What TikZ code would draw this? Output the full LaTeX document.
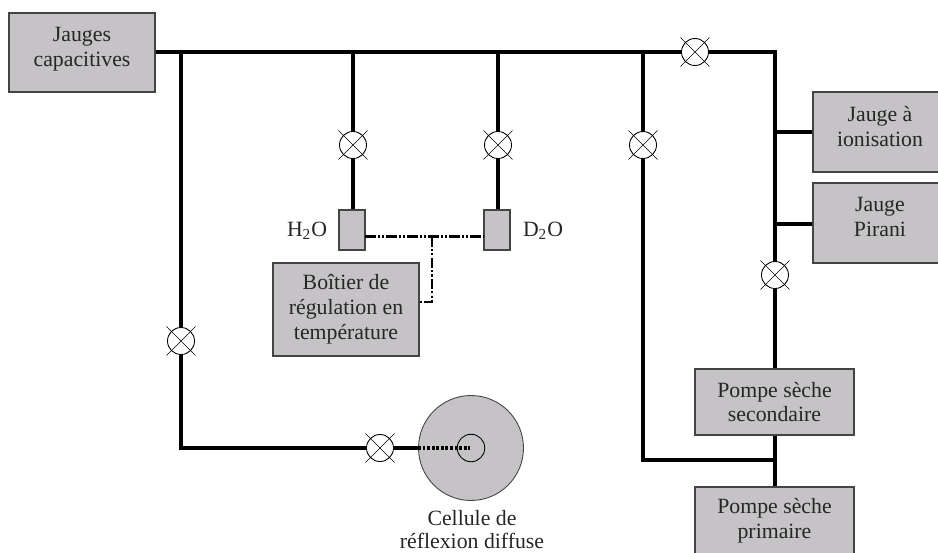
\documentclass[tikz,border=0pt]{standalone}
\usepackage{fontspec}
\setmainfont{Liberation Serif}
\usepackage{tikz}
\usetikzlibrary{shapes.misc}
\definecolor{boxgray}{HTML}{C5C3C6}
\definecolor{boxline}{HTML}{444444}
\newcommand{\relever}{\\[-7.4pt]~}
\tikzset{
  appareil/.style={draw=boxline, fill=boxgray, line width=0.6pt, align=center, inner sep=0pt,
                   font=\fontsize{12.4}{14.2}\selectfont, text=black!85},
  tube/.style={line width=2.2pt, line join=miter},
  vanne/.style={circle, draw=black, fill=white, line width=0.5pt, minimum size=0.54cm, inner sep=0pt,
                label={[draw=black, line width=0.3pt, cross out, minimum size=0.57cm, inner sep=0pt]center:{}}},
  cablage/.style={line width=1.6pt, dash pattern=on 6pt off 1.2pt on 1.2pt off 1.2pt on 1.2pt off 1.2pt},
  legende/.style={font=\fontsize{12.4}{12.6}\selectfont, text=black!85, align=center}
}

\begin{document}
\begin{tikzpicture}[x=0.02cm, y=-0.02cm]

  \useasboundingbox (0,0) rectangle (938,552);

  % ══ APPAREILS ════════════════════════════════════════════════
  \node[appareil, minimum width=2.92cm, minimum height=1.58cm] (capa)  at (82,52.5) {Jauges\\capacitives\relever};
  \node[appareil, minimum width=2.68cm, minimum height=1.6cm]  (ionis) at (880,132) {Jauge à\\ionisation\relever};
  \node[appareil, minimum width=2.68cm, minimum height=1.6cm]  (pirani) at (880,223) {Jauge\\Pirani\relever};
  \node[appareil, minimum width=3.18cm, minimum height=1.32cm] (second) at (774.5,402) {Pompe sèche\\secondaire};
  \node[appareil, minimum width=3.18cm, minimum height=1.34cm] (prim)  at (774.5,520.5) {Pompe sèche\\primaire};
  \node[appareil, minimum width=2.92cm, minimum height=1.86cm] (regul) at (346,309.5) {Boîtier de\\régulation en\\température};
  \node[appareil, minimum width=0.52cm, minimum height=0.8cm]  (hdeux) at (352,230) {};
  \node[appareil, minimum width=0.52cm, minimum height=0.8cm]  (ddeux) at (497,230) {};

  % ══ CELLULE ══════════════════════════════════════════════════
  \node[circle, draw=boxline, fill=boxgray, line width=0.5pt, minimum size=2.1cm, inner sep=0pt] (cellule) at (471,448) {};
  \node[circle, draw=black, fill=boxgray, line width=0.5pt, minimum size=0.55cm, inner sep=0pt] (centre) at (471,448) {};
  \coordinate (fond) at (470,448);

  % ══ TEXTES ═══════════════════════════════════════════════════
  \node[legende] (lhdeux) at (307,231) {H\textsubscript{2}O};
  \node[legende] (lddeux) at (543,231) {D\textsubscript{2}O};
  \node[legende] (lcell)  at (472,529.5) {Cellule de\\réflexion diffuse};

  % ══ VANNES ═══════════════════════════════════════════════════
  \node[vanne] (vh) at (353,145) {};
  \node[vanne] (vd) at (498,145) {};
  \node[vanne] (vb) at (643,145) {};
  \node[vanne] (vt) at (695,52)  {};
  \node[vanne] (vp) at (775,275) {};
  \node[vanne] (vg) at (181,341) {};
  \node[vanne] (vc) at (380,448) {};

  % ══ JONCTIONS ════════════════════════════════════════════════
  \coordinate (ja) at (181,52);
  \coordinate (jb) at (353,52);
  \coordinate (jc) at (498,52);
  \coordinate (jd) at (643,52);
  \coordinate (je) at (775,52);
  \coordinate (jf) at (775,132);
  \coordinate (jg) at (775,224);
  \coordinate (jh) at (775,460);
  \coordinate (ji) at (181,448);
  \coordinate (jj) at (643,460);
  \coordinate (jk) at (432,236.5);
  \coordinate (jl) at (432,302);
  \coordinate (hd) at (365,236.5);
  \coordinate (dd) at (484,236.5);

  % ══ TUBES ════════════════════════════════════════════════════
  \draw[tube] (capa.east |- ja) -- (ja) -- (jb) -- (jc) -- (jd) -- (vt);
  \draw[tube] (vt) -- (je) -- (jf) -- (jg) -- (vp);
  \draw[tube] (vp) -- (second.north -| vp);
  \draw[tube] (jf) -- (ionis.west |- jf);
  \draw[tube] (jg) -- (pirani.west |- jg);
  \draw[tube] (jb) -- (vh);
  \draw[tube] (vh) -- (hdeux.north -| vh);
  \draw[tube] (jc) -- (vd);
  \draw[tube] (vd) -- (ddeux.north -| vd);
  \draw[tube] (jd) -- (vb);
  \draw[tube] (vb) -- (jj) -- (jh);
  \draw[tube] (second.south -| jh) -- (jh) -- (prim.north -| jh);
  \draw[tube] (ja) -- (vg);
  \draw[tube] (vg) -- (ji) -- (vc);
  \draw[tube] (vc) -- (cellule.west);

  % ══ FOND DE CELLULE ══════════════════════════════════════════
  \draw[line width=2.2pt, dash pattern=on 1.6pt off 1pt] (cellule.west) -- (fond);

  % ══ CABLAGE ══════════════════════════════════════════════════
  \draw[cablage] (hd) -- (dd);
  \draw[cablage] (jk) -- (jl) -- (regul.east |- jl);

\end{tikzpicture}
\end{document}
